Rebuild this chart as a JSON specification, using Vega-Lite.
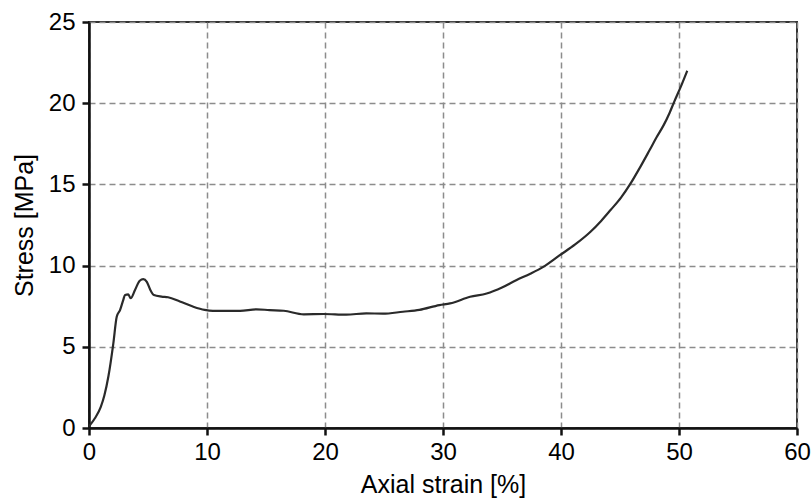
{
  "$schema": "https://vega.github.io/schema/vega-lite/v6.json",
  "width": 708,
  "height": 406,
  "autosize": {"type": "none"},
  "padding": {"left": 89, "top": 22, "right": 14, "bottom": 71},
  "background": "white",
  "config": {
    "view": {"stroke": "#333", "strokeWidth": 2},
    "font": "Liberation Sans"
  },
  "data": {
    "values": [
      {"strain": 0.0, "stress": 0.1},
      {"strain": 0.5, "stress": 0.6},
      {"strain": 1.0, "stress": 1.3},
      {"strain": 1.3, "stress": 2.0},
      {"strain": 1.65, "stress": 3.2},
      {"strain": 2.06, "stress": 5.2},
      {"strain": 2.35, "stress": 6.85},
      {"strain": 2.63, "stress": 7.26},
      {"strain": 2.9, "stress": 7.88},
      {"strain": 3.05, "stress": 8.19},
      {"strain": 3.33, "stress": 8.23},
      {"strain": 3.53, "stress": 7.99},
      {"strain": 3.9, "stress": 8.5},
      {"strain": 4.3, "stress": 9.07},
      {"strain": 4.6, "stress": 9.17},
      {"strain": 4.9, "stress": 9.0},
      {"strain": 5.2, "stress": 8.5},
      {"strain": 5.5, "stress": 8.19},
      {"strain": 6.15, "stress": 8.09},
      {"strain": 6.7, "stress": 8.05},
      {"strain": 7.7, "stress": 7.79},
      {"strain": 8.8, "stress": 7.48},
      {"strain": 9.8, "stress": 7.27},
      {"strain": 10.5, "stress": 7.21},
      {"strain": 12.8, "stress": 7.21},
      {"strain": 14.2, "stress": 7.31},
      {"strain": 15.3, "stress": 7.26},
      {"strain": 16.5, "stress": 7.22},
      {"strain": 18.2, "stress": 7.0},
      {"strain": 19.9, "stress": 7.02},
      {"strain": 21.8, "stress": 6.98},
      {"strain": 23.5, "stress": 7.06},
      {"strain": 24.9, "stress": 7.04},
      {"strain": 26.6, "stress": 7.16},
      {"strain": 28.0, "stress": 7.27},
      {"strain": 29.7, "stress": 7.57},
      {"strain": 30.6, "stress": 7.67},
      {"strain": 32.3, "stress": 8.08},
      {"strain": 33.7, "stress": 8.28},
      {"strain": 35.0, "stress": 8.65},
      {"strain": 36.2, "stress": 9.1},
      {"strain": 37.4, "stress": 9.5},
      {"strain": 38.5, "stress": 9.92},
      {"strain": 39.9, "stress": 10.64},
      {"strain": 41.2, "stress": 11.3},
      {"strain": 42.5, "stress": 12.08},
      {"strain": 43.4, "stress": 12.75},
      {"strain": 44.2, "stress": 13.42},
      {"strain": 45.1, "stress": 14.2},
      {"strain": 45.9, "stress": 15.06},
      {"strain": 46.7, "stress": 16.05},
      {"strain": 47.5, "stress": 17.1},
      {"strain": 48.1, "stress": 17.9},
      {"strain": 48.7, "stress": 18.65},
      {"strain": 49.2, "stress": 19.4},
      {"strain": 49.6, "stress": 20.1},
      {"strain": 50.2, "stress": 21.1},
      {"strain": 50.7, "stress": 22.0}
    ]
  },
  "mark": {"type": "line", "color": "#2a2a2a", "strokeWidth": 2.2, "clip": true, "interpolate": "monotone"},
  "encoding": {
    "x": {
      "field": "strain", "type": "quantitative",
      "scale": {"domain": [0, 60], "nice": false, "zero": false},
      "axis": {
        "title": "Axial strain [%]",
        "values": [0, 10, 20, 30, 40, 50, 60],
        "grid": true, "gridColor": "#8c8c8c", "gridDash": [6, 4], "gridWidth": 1.5, "gridOpacity": 1,
        "domainColor": "#111", "domainWidth": 2.5,
        "tickColor": "#111", "tickWidth": 2.5, "tickSize": 7,
        "labelFont": "Liberation Sans", "labelFontSize": 24, "labelColor": "#000", "labelPadding": 5,
        "labelFlush": false,
        "titleFont": "Liberation Sans", "titleFontSize": 25, "titleFontWeight": "normal", "titleColor": "#000", "titlePadding": 8
      }
    },
    "y": {
      "field": "stress", "type": "quantitative",
      "scale": {"domain": [0, 25], "nice": false, "zero": false},
      "axis": {
        "title": "Stress [MPa]",
        "values": [0, 5, 10, 15, 20, 25],
        "grid": true, "gridColor": "#8c8c8c", "gridDash": [6, 4], "gridWidth": 1.5, "gridOpacity": 1,
        "domainColor": "#111", "domainWidth": 2.5,
        "tickColor": "#111", "tickWidth": 2.5, "tickSize": 7,
        "labelFont": "Liberation Sans", "labelFontSize": 24, "labelColor": "#000", "labelPadding": 7,
        "labelFlush": false,
        "titleFont": "Liberation Sans", "titleFontSize": 25, "titleFontWeight": "normal", "titleColor": "#000", "titlePadding": 11
      }
    }
  }
}
